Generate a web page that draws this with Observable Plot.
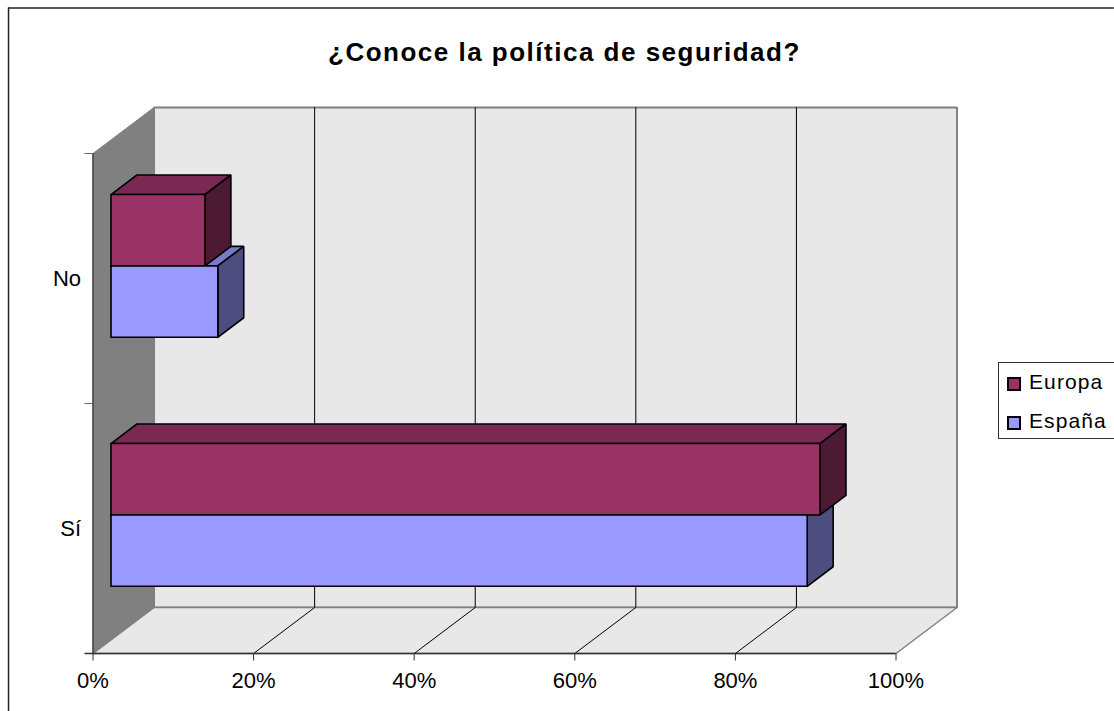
<!DOCTYPE html>
<html>
<head>
<meta charset="utf-8">
<script src="https://cdn.jsdelivr.net/npm/d3@7"></script>
<script src="https://cdn.jsdelivr.net/npm/@observablehq/plot@0.6"></script>
<style>
html,body{margin:0;padding:0;background:#fff;overflow:hidden}
#wrap{position:relative;width:1114px;height:711px;font-family:"Liberation Sans",Arial,sans-serif;color:#000}
#wrap svg{position:absolute;left:0;top:0}
#title{position:absolute;left:328px;top:37px;white-space:nowrap;font-size:26px;font-weight:bold;letter-spacing:1.5px}
#legend{position:absolute;left:998px;top:362px;width:116px;height:77px;box-sizing:border-box;border:1px solid #333;border-right:none;background:#fff;font-size:21px}
.row{position:absolute;left:8px;display:flex;align-items:center;letter-spacing:1.1px}
.sw{display:inline-block;position:relative;top:2px;width:10px;height:10px;border:2px solid #000;margin-right:8px}
</style>
</head>
<body>
<div id="wrap">
<div id="chart"></div>
<div id="title">¿Conoce la política de seguridad?</div>
<div id="legend">
 <div class="row" style="top:7px"><span class="sw" style="background:#993366"></span>Europa</div>
 <div class="row" style="top:46px"><span class="sw" style="background:#9999FF"></span>España</div>
</div>
</div>
<script>
const categories = ["Sí", "No"];
const seriesNames = ["España", "Europa"];
const espana = [86.7, 13.3];
const europa = [88.3, 11.7];
const ticks = [0, 20, 40, 60, 80, 100];
const faceColors = {España: ["#9999FF", "#7A7ACC", "#4D4D80"], Europa: ["#993366", "#7A2952", "#4D1A33"]};

// 3D projection expressed in data units: depth d in [0,1] shifts along the receding axis
const dx = 7.6, dy = 0.184;        // back-wall shift (% units, category units)
const P = (v, c, d) => ({x: v + d * dx, y: c + d * dy});
const poly = (id, pts) => pts.map(([v, c, d]) => ({id, ...P(v, c, d)}));

// bars occupy a band within each category and a depth slab
const d0 = 0.295, d1 = 0.72;
const groupGap = 0.2145, groupStep = 0.996;
const barH = (1 - 2 * groupGap) / 2;
const faces = [];
categories.forEach((cat, i) => {
  [["Europa", europa[i], 1], ["España", espana[i], 0]].forEach(([s, v, k]) => {
    const c0 = i * groupStep + groupGap + k * barH, c1 = c0 + barH;
    const id = cat + s;
    faces.push({id: id + "f", fill: faceColors[s][0], pts: poly(id + "f", [[0, c0, d0], [v, c0, d0], [v, c1, d0], [0, c1, d0], [0, c0, d0]])});
    faces.push({id: id + "t", fill: faceColors[s][1], pts: poly(id + "t", [[0, c1, d0], [v, c1, d0], [v, c1, d1], [0, c1, d1], [0, c1, d0]])});
    faces.push({id: id + "s", fill: faceColors[s][2], pts: poly(id + "s", [[v, c0, d0], [v, c0, d1], [v, c1, d1], [v, c1, d0], [v, c0, d0]])});
  });
});
const order = [];
[1, 0].forEach(i => {
  const cat = categories[i];
  ["España", "Europa"].forEach(s => {
    ["t", "s"].forEach(f => order.push(cat + s + f));
  });
  ["Europa", "España"].forEach(s => order.push(cat + s + "f"));
});
const sortedFaces = order.map(id => faces.find(f => f.id === id));

const polyMark = (pts, fill, opts = {}) => Plot.line(pts, {x: "x", y: "y", fill, stroke: opts.stroke ?? "none", strokeWidth: opts.strokeWidth ?? 1, strokeLinejoin: "miter", curve: "linear"});

const marks = [
  polyMark(poly("back", [[0, 0, 1], [100, 0, 1], [100, 2, 1], [0, 2, 1], [0, 0, 1]]), "#E8E8E8", {stroke: "#808080", strokeWidth: 2}),
  polyMark(poly("floor", [[0, 0, 0], [100, 0, 0], [100, 0, 1], [0, 0, 1], [0, 0, 0]]), "#E8E8E8", {stroke: "#808080", strokeWidth: 1.5}),
  polyMark(poly("left", [[0, 0, 0], [0, 0, 1], [0, 2, 1], [0, 2, 0], [0, 0, 0]]), "#808080", {stroke: "#808080", strokeWidth: 1}),
  ...ticks.slice(1, -1).map(t => Plot.line(poly("g" + t, [[t, 0, 0], [t, 0, 1], [t, 2, 1]]), {x: "x", y: "y", stroke: "#000", strokeWidth: 1})),
  Plot.ruleY([0], {x1: -1, x2: 100, stroke: "#333", strokeWidth: 1.5}),
  Plot.ruleX([0], {y1: 0, y2: 2, stroke: "#444", strokeWidth: 1.5}),
  Plot.ruleX(ticks, {y1: 0, y2: -0.03, stroke: "#333"}),
  Plot.ruleY([1, 2], {x1: -1, x2: 0, stroke: "#666", strokeWidth: 1}),
  ...sortedFaces.map(f => polyMark(f.pts, f.fill, {stroke: "#000", strokeWidth: 1.6})),
  Plot.text(ticks, {x: d => d, y: 0, text: d => d + "%", dy: 27, fontSize: 22, fill: "#000"}),
  Plot.text(categories, {x: 0, y: (d, i) => i + 0.5, text: d => d, textAnchor: "end", dx: -12, fontSize: 22, fill: "#000"})
];

const plot = Plot.plot({
  width: 1114,
  height: 711,
  marginLeft: 92.5,
  marginRight: 218.5,
  marginTop: 153,
  marginBottom: 58,
  x: {domain: [0, 100], axis: null},
  y: {domain: [0, 2], axis: null},
  style: {background: "transparent", fontFamily: "'Liberation Sans', Arial, sans-serif", overflow: "visible"},
  marks: [
    Plot.ruleY([2.582], {x1: -10.52, x2: 127.2, stroke: "#222", strokeWidth: 1.5}),
    Plot.ruleX([-10.52], {y1: -0.232, y2: 2.582, stroke: "#222", strokeWidth: 1.5}),
    ...marks
  ]
});
document.getElementById("chart").appendChild(plot);
</script>
</body>
</html>
